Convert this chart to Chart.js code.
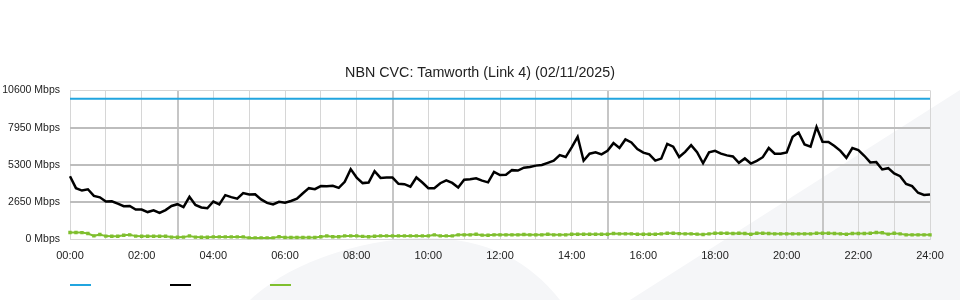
<!DOCTYPE html>
<html>
<head>
<meta charset="utf-8">
<script src="https://cdn.jsdelivr.net/npm/chart.js@4/dist/chart.umd.min.js"></script>
<style>
  html, body { margin: 0; padding: 0; background: #fff; }
  #wrap { position: relative; width: 960px; height: 300px; overflow: hidden; }
  #mark { position: absolute; left: 0; top: 0; width: 960px; height: 300px; }
  #chart { position: absolute; left: 0; top: 0; }
  #legend { position: absolute; left: 70px; top: 284px; display: flex; }
  #legend span { display: block; width: 21px; height: 2px; margin-right: 79px; }
</style>
</head>
<body>
<div id="wrap">
  <svg id="mark" viewBox="0 0 960 300">
    <path d="M250 300 C 290 262, 360 240, 420 238 C 470 237, 520 250, 560 300 Z" fill="#f5f6f8"/>
    <path d="M630 300 L 960 90 L 960 300 Z" fill="#f5f6f8"/>
  </svg>
  <canvas id="chart" width="960" height="300"></canvas>
  <div id="legend"></div>
</div>
<script>
// ---------- Data (10 minute samples, Mbps) ----------
const chartTitle = 'NBN CVC: Tamworth (Link 4) (02/11/2025)';
const yTicks = [0, 2650, 5300, 7950, 10600];
const stepMinutes = 10;

const capacity = 10000;

const traffic = [
  4500, 3650, 3480, 3570, 3100, 3000, 2700, 2720, 2550, 2370,
  2380, 2130, 2130, 1950, 2080, 1890, 2090, 2380, 2510, 2300,
  3030, 2450, 2280, 2220, 2700, 2500, 3150, 3010, 2900, 3300,
  3200, 3220, 2850, 2600, 2490, 2680, 2620, 2740, 2900, 3290,
  3650, 3580, 3800, 3790, 3820, 3670, 4100, 5000, 4400, 4010,
  4050, 4850, 4380, 4400, 4400, 3960, 3930, 3750, 4410, 4050,
  3650, 3650, 4000, 4200, 4020, 3700, 4250, 4290, 4350, 4180,
  4060, 4800, 4580, 4600, 4930, 4900, 5100, 5150, 5250, 5300,
  5450, 5600, 6000, 5860, 6550, 7300, 5600, 6100, 6200, 6050,
  6300, 6850, 6500, 7110, 6900, 6430, 6170, 6050, 5610, 5750,
  6800, 6600, 5860, 6230, 6710, 6200, 5420, 6190, 6300, 6100,
  5980, 5900, 5450, 5760, 5400, 5590, 5850, 6500, 6100, 6100,
  6190, 7300, 7600, 6750, 6600, 8000, 6950, 6930, 6650, 6300,
  5800, 6500, 6350, 5950, 5480, 5500, 4980, 5070, 4690, 4500,
  3950, 3790, 3320, 3170, 3200
];

const other = [
  500, 500, 490, 430, 260, 350, 240, 235, 235, 300,
  330, 240, 235, 235, 235, 235, 235, 170, 165, 170,
  256, 170, 165, 165, 185, 185, 185, 185, 185, 185,
  115, 115, 115, 115, 115, 200, 140, 140, 140, 140,
  140, 140, 200, 256, 190, 190, 256, 256, 256, 220,
  190, 230, 256, 256, 256, 256, 256, 256, 256, 256,
  256, 330, 256, 256, 256, 330, 330, 330, 370, 310,
  300, 330, 330, 330, 330, 330, 355, 330, 330, 330,
  375, 330, 330, 330, 375, 375, 375, 375, 375, 375,
  375, 430, 400, 400, 400, 375, 375, 375, 375, 400,
  450, 450, 420, 400, 400, 380, 355, 400, 450, 450,
  440, 430, 450, 425, 375, 450, 450, 430, 400, 400,
  400, 400, 400, 400, 400, 450, 450, 450, 430, 400,
  375, 425, 425, 425, 450, 500, 480, 380, 450, 400,
  330, 330, 330, 330, 330
];

const colors = { capacity: '#21a5df', traffic: '#000000', other: '#7fbf2e' };

// ---------- Labels ----------
const timeLabels = traffic.map((_, i) => {
  const m = i * stepMinutes;
  const hh = String(Math.floor(m / 60)).padStart(2, '0');
  const mm = String(m % 60).padStart(2, '0');
  return hh + ':' + mm;
});

// ---------- Legend (no text, only swatches) ----------
const legend = document.getElementById('legend');
[colors.capacity, colors.traffic, colors.other].forEach(c => {
  const s = document.createElement('span');
  s.style.background = c;
  legend.appendChild(s);
});

// ---------- Chart ----------
Chart.defaults.font.family = '"Liberation Sans", Arial, sans-serif';
Chart.defaults.color = '#222';

new Chart(document.getElementById('chart'), {
  type: 'line',
  data: {
    labels: timeLabels,
    datasets: [
      {
        data: traffic.map(() => capacity),
        borderColor: colors.capacity,
        borderWidth: 2,
        pointRadius: 0
      },
      {
        data: traffic,
        borderColor: colors.traffic,
        borderWidth: 2.5,
        pointRadius: 0,
        tension: 0
      },
      {
        data: other,
        borderColor: colors.other,
        backgroundColor: colors.other,
        borderWidth: 2,
        pointRadius: 1,
        pointStyle: 'rect',
        tension: 0
      }
    ]
  },
  options: {
    responsive: false,
    animation: false,
    layout: { padding: { left: 0, right: 0, top: 0, bottom: 35.5 } },
    plugins: {
      legend: { display: false },
      tooltip: { enabled: false },
      title: {
        display: true,
        text: chartTitle,
        color: '#222',
        font: { size: 14.3, weight: 'normal' },
        padding: { top: 64, bottom: 9.2 }
      }
    },
    scales: {
      x: {
        type: 'category',
        offset: false,
        border: { display: false },
        afterFit: (s) => { s.height = 25; },
        grid: {
          drawTicks: false,
          color: (ctx) => {
            if (ctx.index % 6 !== 0) return 'rgba(0,0,0,0)';
            return ctx.index % 36 === 18 ? '#c6c6c6' : '#d6d6d6';
          },
          lineWidth: (ctx) => (ctx.index % 36 === 18 ? 2 : 1)
        },
        ticks: {
          autoSkip: false,
          maxRotation: 0,
          padding: 10,
          font: { size: 11 },
          callback: function (value, index) {
            return index % 12 === 0 ? this.getLabelForValue(value) : '';
          }
        }
      },
      y: {
        min: 0,
        max: 10600,
        border: { display: false },
        afterFit: (s) => { s.width = 70; },
        afterBuildTicks: (s) => { s.ticks = yTicks.map(v => ({ value: v })); },
        grid: {
          drawTicks: false,
          color: (ctx) => (ctx.tick.value === 0 || ctx.tick.value === 10600 ? '#d6d6d6' : '#bdbdbd'),
          lineWidth: (ctx) => (ctx.tick.value === 0 || ctx.tick.value === 10600 ? 1 : 2)
        },
        ticks: {
          padding: 10,
          font: { size: 10.5 },
          callback: (v) => v + ' Mbps'
        }
      },
      // empty right axis, only keeps the 30px gap right of the plot
      yRight: {
        position: 'right',
        min: 0,
        max: 10600,
        border: { display: false },
        grid: { display: false },
        ticks: { display: false },
        afterFit: (s) => { s.width = 30; }
      }
    }
  }
});
</script>
</body>
</html>
